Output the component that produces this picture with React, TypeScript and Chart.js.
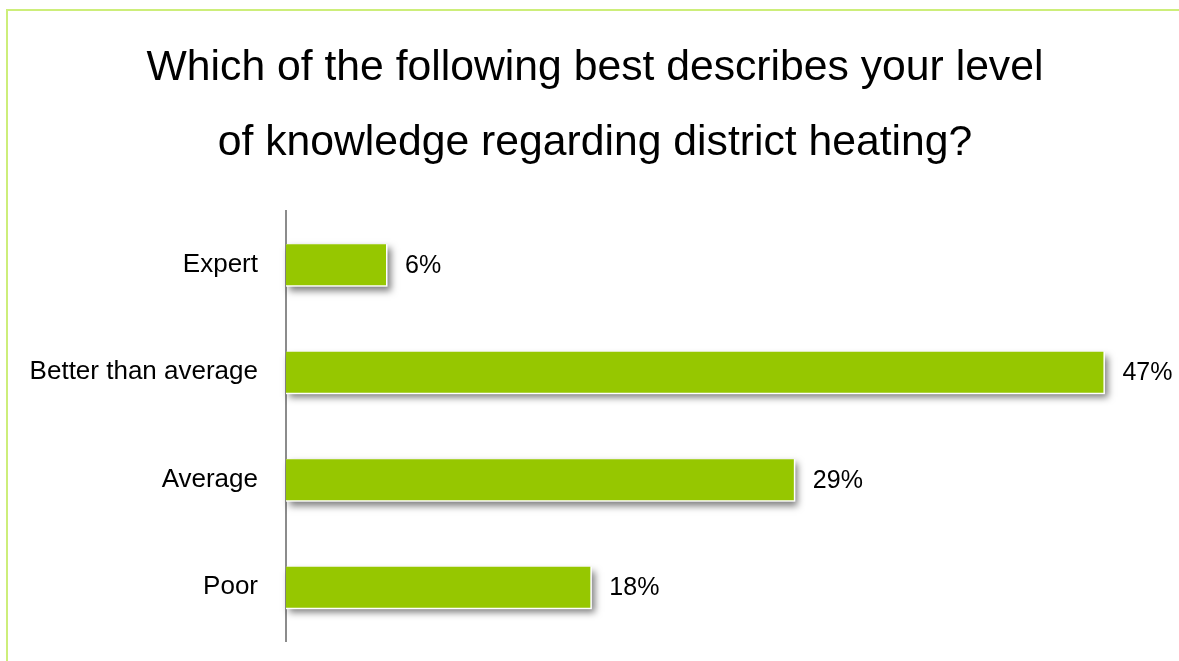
import React, { useEffect, useRef } from "react";
import { Chart, registerables } from "chart.js";

Chart.register(...registerables);

const titleLines = [
  "Which of the following best describes your level",
  "of knowledge regarding district heating?",
];
const categories = ["Expert", "Better than average", "Average", "Poor"];
const values = [5.75, 47, 29.2, 17.5];
const axisMax = 51;

const FONT = "Arial, 'Liberation Sans', sans-serif";
const BAR_GREEN = "#96c700";
const FRAME_GREEN = "#cdee7a";

const framePlugin = {
  id: "frame",
  beforeDraw(chart: any) {
    const ctx = chart.ctx;
    ctx.save();
    ctx.fillStyle = FRAME_GREEN;
    ctx.fillRect(6, 9, 2, chart.height);
    ctx.fillRect(6, 9, chart.width, 2);
    ctx.restore();
  },
};

const shadowLabelPlugin = {
  id: "shadowLabels",
  beforeDatasetsDraw(chart: any) {
    const ctx = chart.ctx;
    const meta = chart.getDatasetMeta(0);
    ctx.save();
    ctx.shadowColor = "rgba(0,0,0,0.5)";
    ctx.shadowBlur = 7;
    ctx.shadowOffsetX = 3;
    ctx.shadowOffsetY = 4;
    ctx.fillStyle = "#ffffff";
    meta.data.forEach((bar: any) => {
      const p = bar.getProps(["x", "y", "base", "height"], true);
      const left = Math.min(p.base, p.x);
      const w = Math.abs(p.x - p.base);
      ctx.fillRect(left, p.y - p.height / 2, w + 1.5, p.height + 1.5);
    });
    ctx.restore();
  },
  afterDatasetsDraw(chart: any) {
    const ctx = chart.ctx;
    const meta = chart.getDatasetMeta(0);
    const data = chart.data.datasets[0].data as number[];
    ctx.save();
    ctx.font = `25px ${FONT}`;
    ctx.fillStyle = "#000000";
    ctx.textAlign = "left";
    ctx.textBaseline = "middle";
    meta.data.forEach((bar: any, i: number) => {
      const p = bar.getProps(["x", "y"], true);
      ctx.fillText(`${Math.round(data[i])}%`, p.x + 19, p.y + 1);
    });
    ctx.restore();
  },
};

export default function App() {
  const canvasRef = useRef<HTMLCanvasElement | null>(null);

  useEffect(() => {
    if (!canvasRef.current) return;
    const chart = new Chart(canvasRef.current, {
      type: "bar",
      data: {
        labels: categories,
        datasets: [
          {
            data: values,
            backgroundColor: BAR_GREEN,
            borderWidth: 0,
            categoryPercentage: 0.38,
            barPercentage: 1,
          },
        ],
      },
      options: {
        indexAxis: "y",
        responsive: false,
        animation: false,
        devicePixelRatio: 1,
        layout: { padding: { top: 0, bottom: 20, left: 17, right: 6 } },
        plugins: {
          legend: { display: false },
          tooltip: { enabled: false },
          title: {
            display: true,
            text: titleLines,
            color: "#000000",
            font: { family: FONT, size: 42.7, weight: "normal", lineHeight: 75 / 42.7 },
            padding: { top: 31, bottom: 30 },
          },
        },
        scales: {
          x: {
            display: false,
            min: 0,
            max: axisMax,
          },
          y: {
            grid: { display: false, drawTicks: false },
            border: { display: true, color: "#8c8c8c", width: 2 },
            ticks: {
              color: "#000000",
              padding: 28,
              font: { family: FONT, size: 26 },
            },
            afterFit(scale: any) {
              scale.width = 269;
              scale.paddingTop = 0;
              scale.paddingBottom = 0;
            },
          },
        },
      },
      plugins: [framePlugin, shadowLabelPlugin],
    });
    return () => chart.destroy();
  }, []);

  return (
    <div
      style={{
        position: "fixed",
        left: 0,
        top: 0,
        width: 1179,
        height: 661,
        background: "#ffffff",
      }}
    >
      <canvas ref={canvasRef} width={1179} height={661} />
    </div>
  );
}
